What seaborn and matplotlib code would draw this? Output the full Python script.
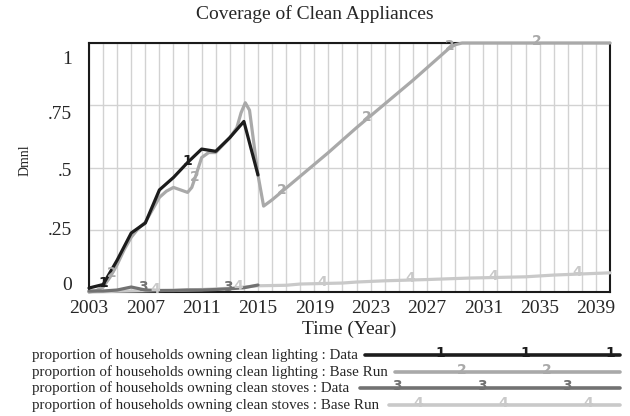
import numpy as np
import pandas as pd
import matplotlib
matplotlib.use('Agg')
import matplotlib.pyplot as plt
import matplotlib.transforms as mtransforms
from matplotlib.lines import Line2D
import seaborn as sns

# ── Data ──────────────────────────────────────────────────────
data_years    = list(range(2003, 2016))
lighting_data = [0.016, 0.030, 0.128, 0.237, 0.277, 0.410, 0.460,
                 0.520, 0.574, 0.565, 0.620, 0.685, 0.470]
stoves_data   = [0.004, 0.004, 0.008, 0.020, 0.008, 0.006, 0.006,
                 0.008, 0.008, 0.010, 0.013, 0.017, 0.028]

lighting_run_years = [2003, 2003.5, 2004, 2004.5, 2005, 2005.5, 2006, 2006.5,
                      2007, 2007.5, 2008, 2008.5, 2009, 2009.5, 2010, 2010.3,
                      2010.6, 2011, 2011.5, 2012, 2012.5, 2013, 2013.5, 2013.8,
                      2014.1, 2014.4, 2014.7, 2015, 2015.4, 2016, 2018, 2020,
                      2022, 2024, 2026, 2028, 2028.5, 2029, 2029.5, 2040]
lighting_run       = [0.000, 0.005, 0.020, 0.060, 0.110, 0.170, 0.220, 0.255,
                      0.280, 0.330, 0.380, 0.405, 0.420, 0.410, 0.400, 0.420,
                      0.470, 0.540, 0.560, 0.560, 0.590, 0.620, 0.660, 0.720,
                      0.760, 0.730, 0.600, 0.470, 0.345, 0.370, 0.465, 0.560,
                      0.660, 0.755, 0.850, 0.950, 0.975, 0.993, 1.000, 1.000]

stoves_run_years = [2003, 2005, 2007, 2009, 2011, 2013, 2015, 2017, 2018,
                    2021, 2022, 2024, 2027, 2030, 2034, 2036, 2040]
stoves_run       = [0.000, 0.003, 0.005, 0.007, 0.010, 0.015, 0.025, 0.027,
                    0.032, 0.036, 0.040, 0.045, 0.050, 0.056, 0.061, 0.068, 0.077]

series_names = ['proportion of households owning clean lighting : Data',
                'proportion of households owning clean lighting : Base Run',
                'proportion of households owning clean stoves : Data',
                'proportion of households owning clean stoves : Base Run']
series_ids   = ['1', '2', '3', '4']
colors       = ['#1c1c1c', '#a9a9a9', '#727272', '#c9c9c9']

# numbered markers along each curve (years where the digit sits)
marker_years = [[2004.0, 2010.0],
                [2004.6, 2010.5, 2016.7, 2022.7, 2028.6, 2034.8],
                [2006.8, 2012.9],
                [2007.7, 2013.6, 2019.6, 2025.8, 2031.7, 2037.7]]

xy = [(data_years, lighting_data), (lighting_run_years, lighting_run),
      (data_years, stoves_data), (stoves_run_years, stoves_run)]

df = pd.concat([pd.DataFrame({'year': x, 'value': y, 'series': sid})
                for (x, y), sid in zip(xy, series_ids)], ignore_index=True)

# ── Style ─────────────────────────────────────────────────────
sns.set_theme(style='white')
plt.rcParams['font.family'] = ['Liberation Serif', 'DejaVu Serif']

fig = plt.figure(figsize=(6.3, 4.16), dpi=100)
ax = fig.add_axes([89/630, 1-292/416, 521/630, 249/416])

palette = dict(zip(series_ids, colors))
sns.lineplot(data=df, x='year', y='value', hue='series',
             hue_order=['4', '2', '3', '1'], palette=palette,
             estimator=None, sort=False, linewidth=2.3, legend=False, ax=ax)
for ln in ax.lines:
    ln.set_clip_on(False)
    ln.set_zorder(3)
    ln.set_solid_joinstyle('round')

# digits sit a touch above the curve, as in Vensim output
lift = mtransforms.ScaledTranslation(0, 2/100, fig.dpi_scale_trans)
for (x, y), sid, col, myrs in zip(xy, series_ids, colors, marker_years):
    my = np.interp(myrs, x, y)
    for mx, yv in zip(myrs, my):
        ax.text(mx, yv, sid, color=col, fontsize=10, fontweight='bold',
                family='DejaVu Sans', ha='center', va='center', zorder=4,
                transform=ax.transData + lift)

ax.set_xlim(2003, 2040)
ax.set_ylim(0, 1)
xt = list(range(2003, 2041))
ax.set_xticks(xt)
ax.set_xticklabels([str(t) if (t - 2003) % 4 == 0 else '' for t in xt], fontsize=14)
ax.set_yticks([0, 0.25, 0.5, 0.75, 1])
ax.set_yticklabels(['0', '.25', '.5', '.75', '1'], fontsize=14)
ax.tick_params(length=0)
ax.tick_params(axis='x', pad=6)
ax.tick_params(axis='y', pad=12)
ax.grid(True, color='#d2d2d2', linewidth=1)
for sp in ax.spines.values():
    sp.set_color('#1a1a1a')
    sp.set_linewidth(1.5)

# Vensim-like placement of y labels (pulled inward at the ends)
offsets = [9, 1, -2, -7, -14]
for lab, dy in zip(ax.get_yticklabels(), offsets):
    lab.set_transform(lab.get_transform() +
                      mtransforms.ScaledTranslation(0, dy/100, fig.dpi_scale_trans))

ax.set_ylabel('Dmnl', fontsize=10)
ax.yaxis.set_label_coords(-0.111, 0.53)
ax.set_xlabel('Time (Year)', fontsize=14)
ax.xaxis.set_label_coords(0.5, -0.148)
ax.xaxis.label.set_verticalalignment('center')

fig.text(0.5, 1-14/416, 'Coverage of Clean Appliances', fontsize=14,
         ha='center', va='center')

# ── Legend drawn below the axes ───────────────────────────────
leg_y      = [355, 372, 388, 405]
leg_start  = [365, 395, 360, 389]
leg_marks  = [[440, 525, 610], [462, 547], [397, 482, 567], [418, 503, 588]]
for name, sid, col, yy, x0, mk in zip(series_names, series_ids, colors,
                                       leg_y, leg_start, leg_marks):
    yf = 1 - yy/416
    fig.text(32/630, yf, name, fontsize=10.8, ha='left', va='center')
    fig.add_artist(Line2D([x0/630, 620/630], [yf, yf], transform=fig.transFigure,
                          color=col, linewidth=2.6))
    for mx in mk:
        fig.text(mx/630, yf + 2/416, sid, color=col, fontsize=10, fontweight='bold',
                 family='DejaVu Sans', ha='center', va='center')

fig.savefig('out.png', dpi=100)
